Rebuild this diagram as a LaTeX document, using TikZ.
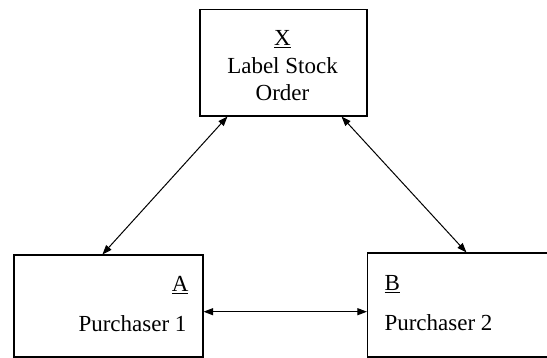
\documentclass[tikz,border=0pt]{standalone}
\usepackage{fontspec}
\setmainfont{Liberation Serif}
\usetikzlibrary{arrows.meta}

\begin{document}
\begin{tikzpicture}[x=1pt,y=-1pt,
  font=\fontsize{23}{27.3}\selectfont,
  box/.style={draw,line width=1.1pt,inner sep=0pt},
  link/.style={{Triangle[length=9.5pt,width=7pt]}-{Triangle[length=9.5pt,width=7pt]},line width=1pt}]
  \clip (0,0) rectangle (547,358); % page frame, B runs off the right side

  \node[box,minimum width=167pt,minimum height=106.5pt] (X) at (283.5,62.75) {}; % stock order
  \node[box,minimum width=189pt,minimum height=102pt] (A) at (108.5,306) {}; % purchaser 1
  \node[box,minimum width=200pt,minimum height=104pt] (B) at (467.5,305) {}; % purchaser 2

  \node[anchor=base,align=center] (xtext) at (282.5,100.5) {\underline{X}\\Label Stock\\Order}; % text of X
  \node[anchor=base east] (aname) at (192,291.5) {\underline{A}}; % A heading
  \node[anchor=base east] (atext) at (190,331.5) {Purchaser 1};
  \node[anchor=base west] (bname) at (381,290.5) {\underline{B}}; % B heading
  \node[anchor=base west] (btext) at (381,330.5) {Purchaser 2};

  \draw[link] ([xshift=28pt]X.south west) -- ([xshift=89pt]A.north west); % X <-> A
  \draw[link] ([xshift=-26pt]X.south east) -- ([xshift=99.5pt]B.north west); % X <-> B
  \draw[link] ([yshift=-5.7pt]A.east) -- ([yshift=-5.7pt]A.east -| B.west); % A <-> B
\end{tikzpicture}
\end{document}
